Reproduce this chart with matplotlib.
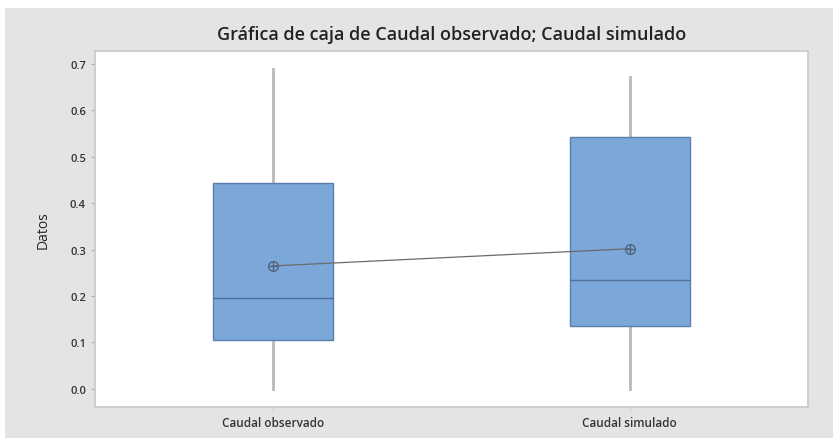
import matplotlib.pyplot as plt
from matplotlib.patches import Rectangle

# Data
labels = ['Caudal observado', 'Caudal simulado']
whislo = [0.0, 0.0]
q1 = [0.106, 0.136]
med = [0.196, 0.235]
q3 = [0.444, 0.543]
whishi = [0.690, 0.672]
means = [0.265, 0.302]
yticks = [0.0, 0.1, 0.2, 0.3, 0.4, 0.5, 0.6, 0.7]

plt.rcParams['font.family'] = ['Open Sans', 'DejaVu Sans']

fig = plt.figure(figsize=(8.33, 4.39), dpi=100)
fig.patch.set_facecolor('white')
# grey chart background as in Minitab
fig.add_artist(Rectangle((5 / 833, 0), 1, 1 - 9 / 439, transform=fig.transFigure,
                         facecolor='#e4e4e4', edgecolor='none', zorder=0))

ax = fig.add_axes([95 / 833, 31 / 439, 713 / 833, 356 / 439])
ax.set_facecolor('white')

stats = []
for i in range(len(labels)):
    stats.append(dict(label=labels[i], whislo=whislo[i], q1=q1[i], med=med[i],
                      q3=q3[i], whishi=whishi[i], mean=means[i], fliers=[]))

positions = [1, 2]
ax.bxp(stats, positions=positions, widths=0.337, patch_artist=True,
       showcaps=False, showmeans=False, showfliers=False,
       boxprops=dict(facecolor='#7ba7d9', edgecolor='#5b7eaa', linewidth=1.0, zorder=3),
       medianprops=dict(color='#4f6f96', linewidth=1.0, zorder=3),
       whiskerprops=dict(color='#b9b9b9', linewidth=2.0, zorder=2))

# mean connect line and symbols
ax.plot(positions, means, color='#6a6a6a', linewidth=0.9, zorder=4)
ax.plot(positions, means, linestyle='none', marker='o', markersize=7,
        markerfacecolor='none', markeredgecolor='#52657f', markeredgewidth=1.0, zorder=5)
ax.plot(positions, means, linestyle='none', marker='+', markersize=7,
        markeredgecolor='#52657f', markeredgewidth=1.0, zorder=5)

ax.set_xlim(0.5, 2.5)
ax.set_ylim(-0.039, 0.728)
ax.set_yticks(yticks)
ax.set_yticklabels([f'{v:.1f}' for v in yticks])
ax.set_xticks(positions)
ax.set_xticklabels(labels)

for s in ax.spines.values():
    s.set_color('#c8c8c8')
    s.set_linewidth(1.2)

ax.tick_params(axis='y', colors='#b0b0b0', labelcolor='#333333', length=3,
               labelsize=8, width=0.8)
ax.tick_params(axis='x', colors='#d0d0d0', labelcolor='#333333', length=3,
               labelsize=8.5, width=0.8)
for t in ax.get_yticklabels() + ax.get_xticklabels():
    t.set_fontweight('semibold')

ax.set_ylabel('Datos', fontsize=10, color='#222222', labelpad=14)
ax.set_title('Gráfica de caja de Caudal observado; Caudal simulado',
             fontsize=13, fontweight='semibold', color='#222222', pad=9)

plt.savefig('out.png', dpi=100, facecolor=fig.get_facecolor())
